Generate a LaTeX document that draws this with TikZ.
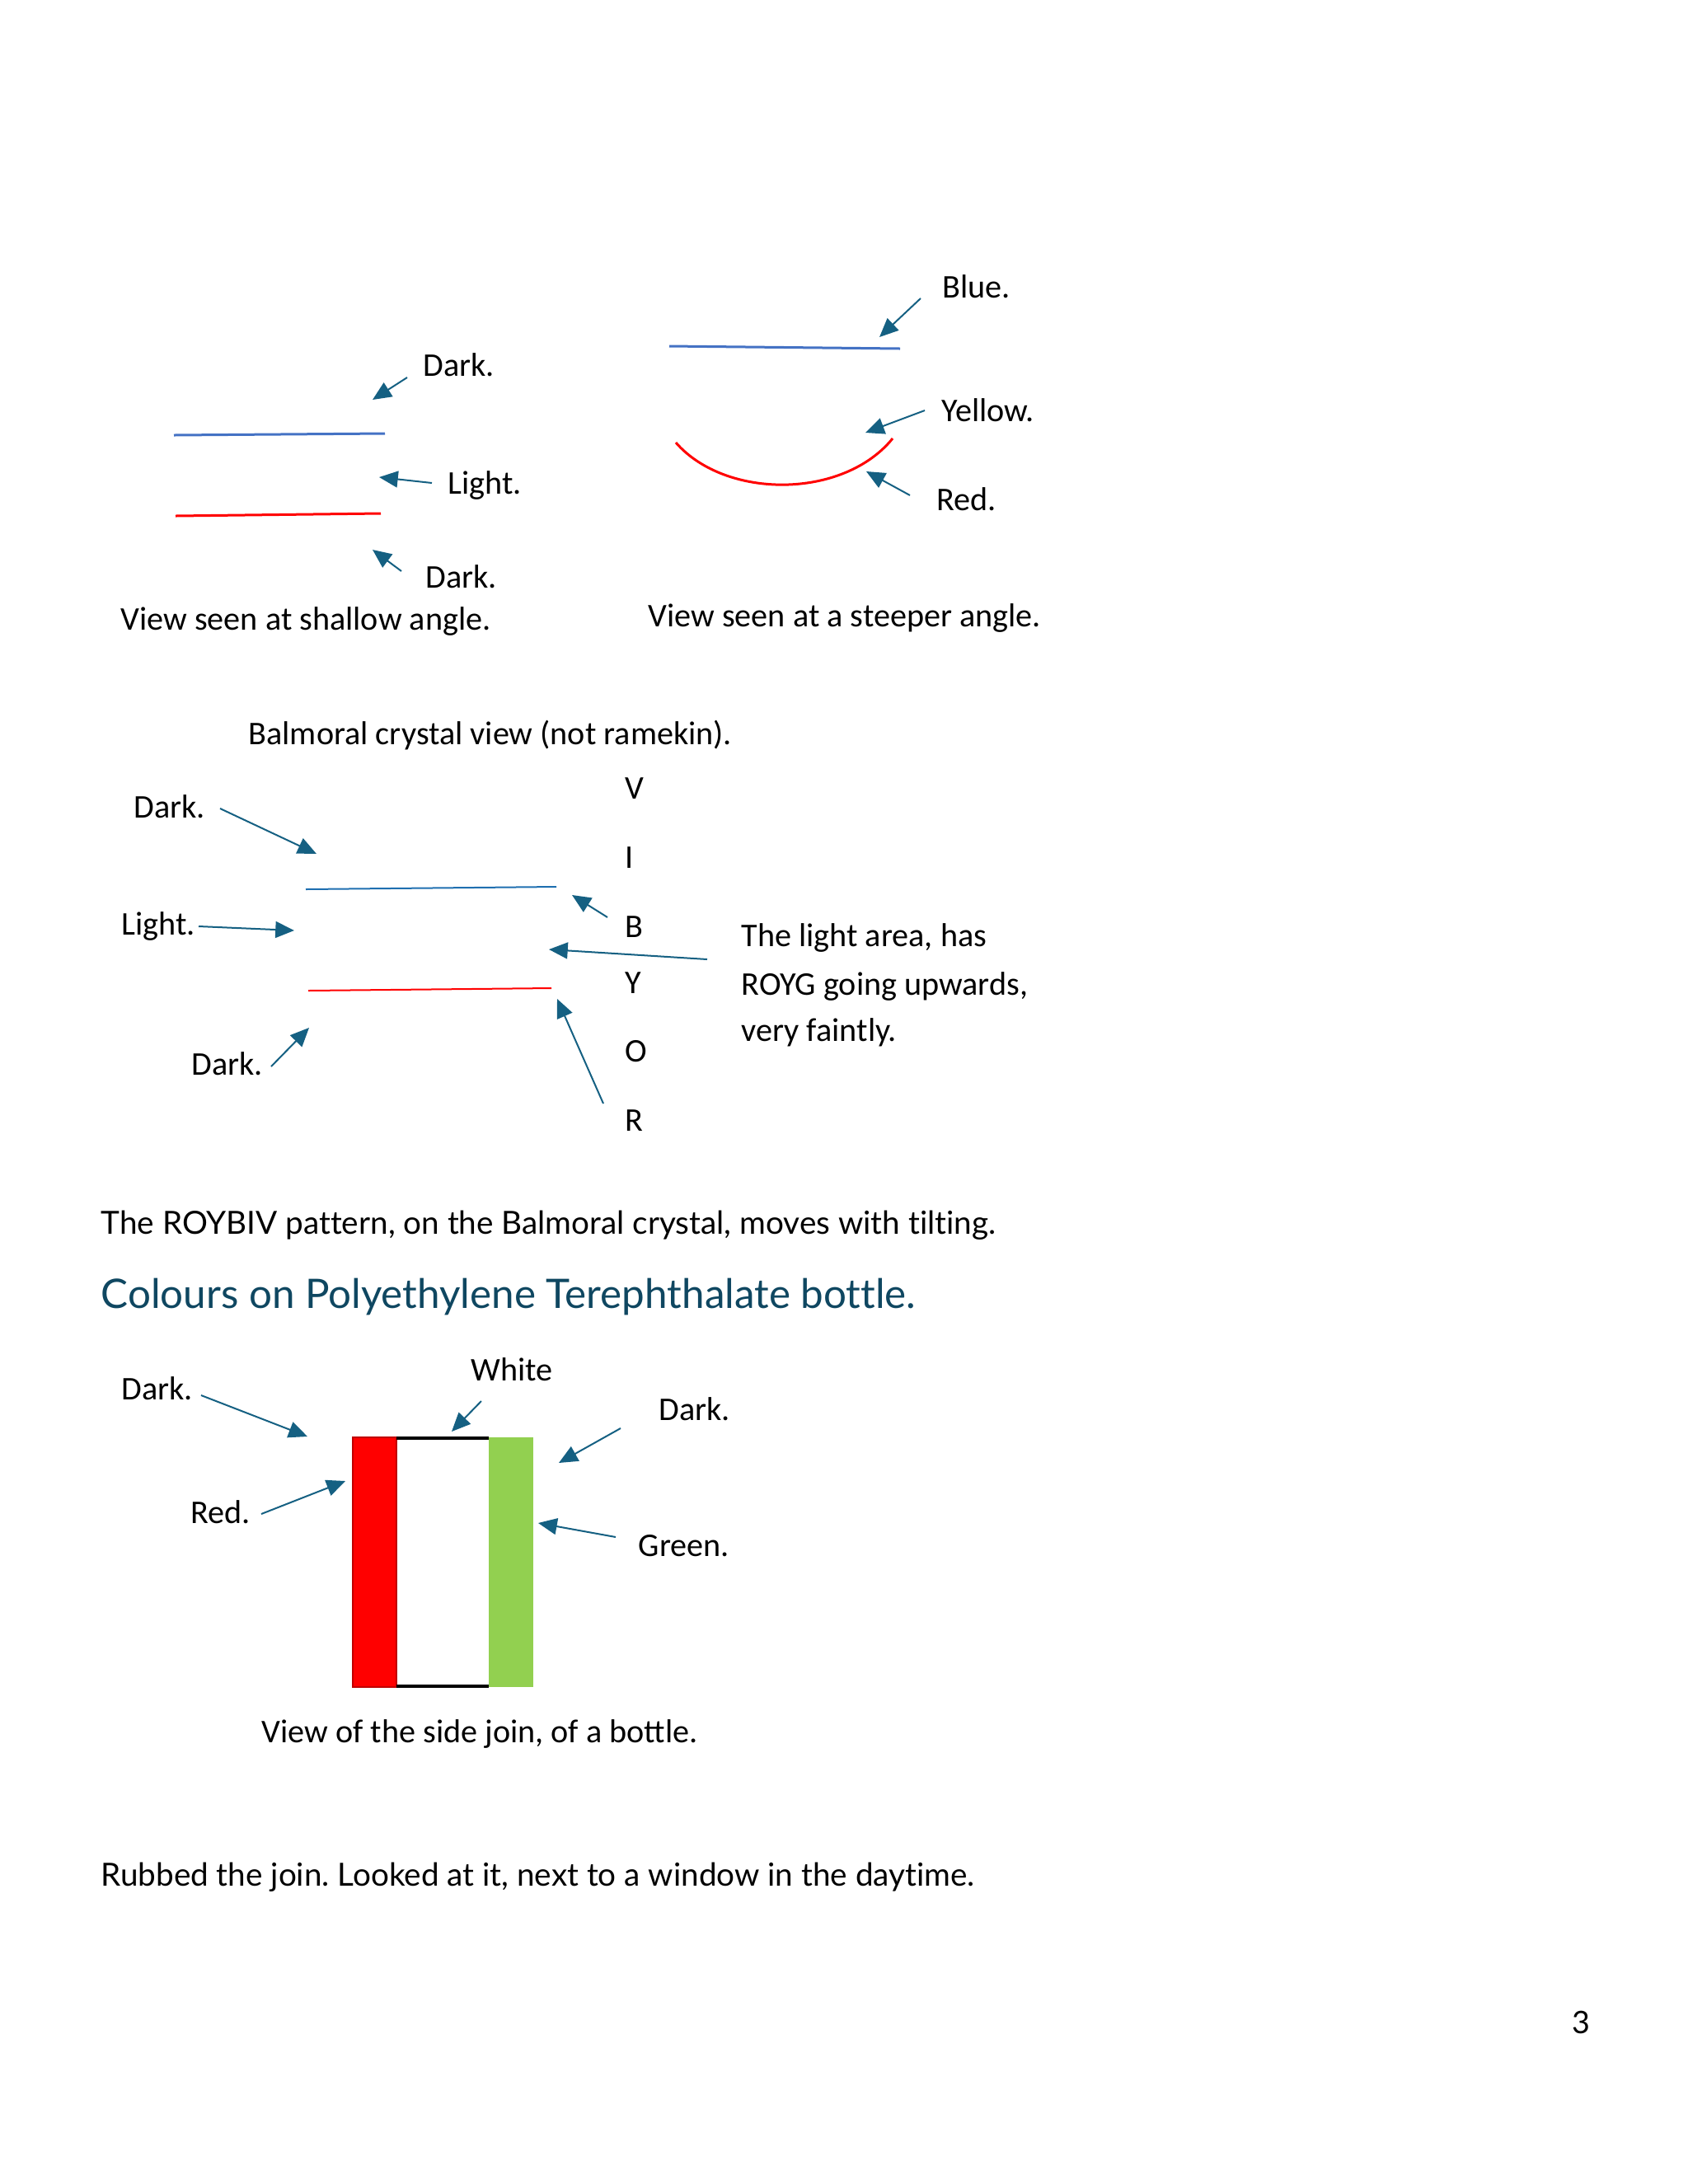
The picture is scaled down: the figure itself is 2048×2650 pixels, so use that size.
\documentclass[tikz,border=0pt]{standalone}
\usepackage{fontspec}
\setmainfont{Carlito}
\newfontfamily\bodyfont[Ligatures=NoCommon]{Lato}
\usetikzlibrary{arrows.meta}
\frenchspacing

\definecolor{arrowblue}{HTML}{156082}
\definecolor{lineblue}{HTML}{4472C4}
\definecolor{crystalblue}{HTML}{1F6FB0}
\definecolor{headteal}{HTML}{0F4761}
\definecolor{joingreen}{HTML}{92D050}
\definecolor{joinred}{HTML}{C00000}

\tikzset{
  pointer/.style={draw=arrowblue, line width=0.6pt, -{Triangle[length=2.4mm, width=2.1mm]}},
  note/.style={anchor=base west, inner sep=0pt, font=\fontsize{12.05}{14}\selectfont},
  bodytext/.style={anchor=base west, inner sep=0pt, font=\bodyfont\fontsize{11.6}{14}\selectfont},
}

\begin{document}
\begin{tikzpicture}[x=0.010542cm, y=-0.010542cm]
  \useasboundingbox (0,0) rectangle (2048,2650);

  % shallow angle
  \draw [lineblue, line width=0.9pt] (211,528) -- (467,526);
  \draw [red, line width=0.9pt] (213,626) -- (462,623);
  \node [note] (darkA) at (513,456) {Dark.};
  \node [note] (lightA) at (543,599) {Light.};
  \node [note] (darkB) at (516,713) {Dark.};
  \node [note] (shallow) at (146,764) {View seen at shallow angle.};
  \coordinate (darkAt) at (494,458);  \coordinate (darkAh) at (452,485);
  \coordinate (lightAt) at (524,586); \coordinate (lightAh) at (460,579);
  \coordinate (darkBt) at (487,693);  \coordinate (darkBh) at (452,667);
  \draw [pointer] (darkAt) -- (darkAh);
  \draw [pointer] (lightAt) -- (lightAh);
  \draw [pointer] (darkBt) -- (darkBh);

  % steeper angle
  \draw [lineblue, line width=0.9pt] (812,420) -- (1092,423);
  \draw [red, line width=0.9pt] (820,537) .. controls (880,606) and (1023,606) .. (1083,532);
  \node [note] (blue) at (1143,361) {Blue.};
  \node [note] (yellow) at (1142,511) {Yellow.};
  \node [note] (redA) at (1136,619) {Red.};
  \node [note] (steep) at (786,760) {View seen at a steeper angle.};
  \coordinate (bluet) at (1117,362);   \coordinate (blueh) at (1067,409);
  \coordinate (yellowt) at (1122,498); \coordinate (yellowh) at (1050,525);
  \coordinate (redAt) at (1104,601);   \coordinate (redAh) at (1051,572);
  \draw [pointer] (bluet) -- (blueh);
  \draw [pointer] (yellowt) -- (yellowh);
  \draw [pointer] (redAt) -- (redAh);

  % Balmoral crystal
  \node [note] (balmoral) at (301,903) {Balmoral crystal view (not ramekin).};
  \draw [crystalblue, line width=0.6pt] (371,1079) -- (675,1076);
  \draw [red, line width=0.6pt] (374,1202) -- (669,1199);
  \node [note] (v) at (758,969) {V};
  \node [note] (i) at (758,1053) {I};
  \node [note] (b) at (758,1137) {B};
  \node [note] (y) at (758,1205) {Y};
  \node [note] (o) at (758,1288) {O};
  \node [note] (r) at (758,1372) {R};
  \node [note] (darkC) at (162,992) {Dark.};
  \node [note] (lightC) at (147,1134) {Light.};
  \node [note] (darkD) at (232,1304) {Dark.};
  \node [note] (area1) at (899,1148) {The light area, has};
  \node [note] (area2) at (899,1207) {ROYG going upwards,};
  \node [note] (area3) at (899,1263) {very faintly.};
  \coordinate (darkCt) at (267,981);  \coordinate (darkCh) at (384,1036);
  \coordinate (lightCt) at (241,1124); \coordinate (lightCh) at (357,1129);
  \coordinate (darkDt) at (329,1294); \coordinate (darkDh) at (375,1247);
  \coordinate (bt) at (737,1113);     \coordinate (bh) at (694,1086);
  \coordinate (areat) at (858,1164);  \coordinate (areah) at (666,1152);
  \coordinate (rt) at (732,1339);     \coordinate (rh) at (676,1212);
  \draw [pointer] (darkCt) -- (darkCh);
  \draw [pointer] (lightCt) -- (lightCh);
  \draw [pointer] (darkDt) -- (darkDh);
  \draw [pointer] (bt) -- (bh);
  \draw [pointer] (areat) -- (areah);
  \draw [pointer] (rt) -- (rh);

  \node [bodytext] (roybiv) at (122,1497) {The ROYBIV pattern, on the Balmoral crystal, moves with tilting.};
  \node [anchor=base west, inner sep=0pt, text=headteal, font=\bodyfont\fontsize{14.8}{18}\selectfont] (heading) at (122,1587) {Colours on Polyethylene Terephthalate bottle.};

  % bottle join
  \draw [fill=red, draw=joinred, line width=0.6pt] (428,1744) rectangle (481,2047);
  \draw [fill=joingreen, draw=none] (593,1744) rectangle (647,2047);
  \draw [black, line width=1.2pt] (481,1745) -- (593,1745);
  \draw [black, line width=1.2pt] (481,2046) -- (593,2046);
  \node [note] (darkE) at (147,1698) {Dark.};
  \node [note] (white) at (571,1675) {White};
  \node [note] (darkF) at (799,1723) {Dark.};
  \node [note] (redB) at (231,1848) {Red.};
  \node [note] (green) at (774,1888) {Green.};
  \node [note] (join) at (317,2114) {View of the side join, of a bottle.};
  \coordinate (darkEt) at (244,1693); \coordinate (darkEh) at (373,1743);
  \coordinate (whitet) at (584,1700); \coordinate (whiteh) at (548,1737);
  \coordinate (darkFt) at (753,1733); \coordinate (darkFh) at (678,1775);
  \coordinate (redBt) at (317,1837);  \coordinate (redBh) at (419,1797);
  \coordinate (greent) at (747,1865); \coordinate (greenh) at (653,1848);
  \draw [pointer] (darkEt) -- (darkEh);
  \draw [pointer] (whitet) -- (whiteh);
  \draw [pointer] (darkFt) -- (darkFh);
  \draw [pointer] (redBt) -- (redBh);
  \draw [pointer] (greent) -- (greenh);

  \node [bodytext] (rubbed) at (122,2288) {Rubbed the join. Looked at it, next to a window in the daytime.};
  \node [anchor=base, inner sep=0pt, font=\bodyfont\fontsize{11.3}{14}\selectfont] (page) at (1918,2467) {3};
\end{tikzpicture}
\end{document}
